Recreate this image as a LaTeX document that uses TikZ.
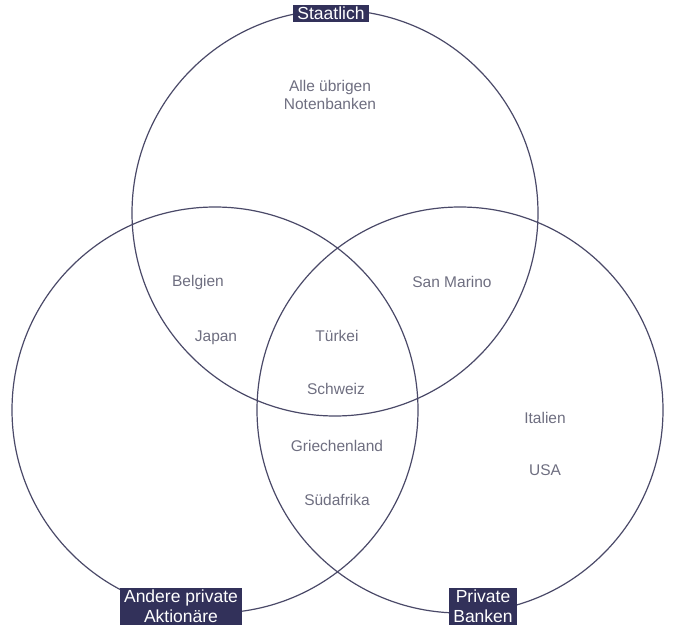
\documentclass[tikz,border=0pt]{standalone}
\usepackage{fontspec}
\setmainfont{Liberation Sans}
\usepackage{xcolor}
\usetikzlibrary{positioning}

\definecolor{navy}{HTML}{32315A}
\definecolor{ringline}{HTML}{4A4968}
\definecolor{labelgray}{HTML}{6E6E80}

\begin{document}
\begin{tikzpicture}[
    x=1pt, y=-1pt,
    ring/.style={circle, draw=ringline, line width=1.2pt, minimum size=406pt, inner sep=0pt},
    tag/.style={rectangle, fill=navy, text=white, font=\fontsize{17.5}{20}\selectfont, align=center, inner xsep=4pt, inner ysep=2.5pt},
    country/.style={text=labelgray, font=\fontsize{15.5}{18}\selectfont, align=center}
]
\useasboundingbox (0,0) rectangle (675,644);

\node (staat) [ring] at (335,213) {};
\node (andere) [ring] at (215,410) {};
\node (banken) [ring] at (460,410) {};

\node (staattag) [tag] at (331,13.5) {Staatlich};
\node (anderetag) [tag] at (181,606.5) {Andere private\\Aktion\"are};
\node (bankentag) [tag] at (483,606.5) {Private\\Banken};

\node (rest) [country] at (330,95) {Alle \"ubrigen\\Notenbanken};
\node (belgien) [country] at (198,282) {Belgien};
\node (japan) [country] at (216,338) {Japan};
\node (sanmarino) [country] at (452,282) {San Marino};
\node (tuerkei) [country] at (337,336) {T\"urkei};
\node (schweiz) [country] at (336,389) {Schweiz};
\node (griechenland) [country] at (337,446) {Griechenland};
\node (suedafrika) [country] at (337,500) {S\"udafrika};
\node (italien) [country] at (545,418) {Italien};
\node (usa) [country] at (545,470) {USA};

\end{tikzpicture}
\end{document}
